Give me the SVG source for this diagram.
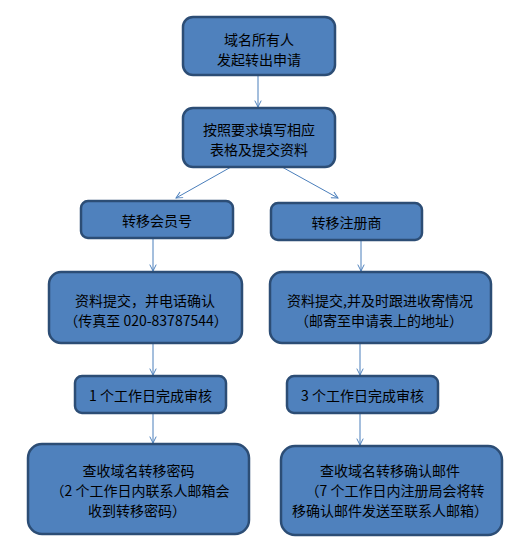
<svg xmlns="http://www.w3.org/2000/svg" width="532" height="553" viewBox="0 0 532 553">
<style>
.box{fill:#4F81BD;stroke:#2C4D75;stroke-width:2.5}
.t{font-family:"Noto Sans CJK SC","Liberation Sans",sans-serif;font-size:14px;fill:#000;text-anchor:middle;dominant-baseline:central}
.c{stroke:#4A7EBB;stroke-width:1;fill:none;marker-end:url(#ah)}
</style>
<defs>
<marker id="ah" viewBox="0 0 10 10" refX="9" refY="5" markerWidth="8" markerHeight="8" markerUnits="userSpaceOnUse" orient="auto">
<path d="M1,1 L9,5 L1,9" fill="none" stroke="#4A7EBB" stroke-width="1.2"/>
</marker>
</defs>
<rect width="532" height="553" fill="#fff"/>
<g id="connectors">
<line class="c" x1="258" y1="75" x2="258" y2="107"/>
<line class="c" x1="231" y1="167" x2="176" y2="198"/>
<line class="c" x1="282" y1="167" x2="338" y2="198"/>
<line class="c" x1="153" y1="238" x2="153" y2="271"/>
<line class="c" x1="361" y1="240" x2="361" y2="271"/>
<line class="c" x1="153" y1="343" x2="153" y2="375"/>
<line class="c" x1="360" y1="343" x2="360" y2="375"/>
<line class="c" x1="153" y1="413" x2="153" y2="443"/>
<line class="c" x1="360" y1="413" x2="360" y2="445"/>
</g>
<g id="n1">
<rect class="box" x="183" y="17" width="152" height="58" rx="10"/>
<text class="t" x="259" y="38.5">域名所有人</text>
<text class="t" x="259" y="58.5">发起转出申请</text>
</g>
<g id="n2">
<rect class="box" x="183" y="108" width="152" height="59" rx="10"/>
<text class="t" x="259" y="128.5">按照要求填写相应</text>
<text class="t" x="259" y="148.5">表格及提交资料</text>
</g>
<g id="n3">
<rect class="box" x="81" y="201" width="152" height="37" rx="7"/>
<text class="t" x="157" y="220">转移会员号</text>
</g>
<g id="n4">
<rect class="box" x="271" y="203" width="151" height="37" rx="7"/>
<text class="t" x="346.5" y="222">转移注册商</text>
</g>
<g id="n5">
<rect class="box" x="49" y="272" width="193" height="71" rx="12"/>
<text class="t" x="145" y="300">资料提交，并电话确认</text>
<text class="t" x="146" y="319.5">（传真至 020-83787544）</text>
</g>
<g id="n6">
<rect class="box" x="270" y="272" width="221" height="71" rx="12"/>
<text class="t" x="380" y="300">资料提交,并及时跟进收寄情况</text>
<text class="t" x="379" y="319.5">（邮寄至申请表上的地址）</text>
</g>
<g id="n7">
<rect class="box" x="75" y="376" width="151" height="37" rx="7"/>
<text class="t" x="150.5" y="395">1 个工作日完成审核</text>
</g>
<g id="n8">
<rect class="box" x="287" y="376" width="151" height="37" rx="7"/>
<text class="t" x="362.5" y="395">3 个工作日完成审核</text>
</g>
<g id="n9">
<rect class="box" x="28" y="444" width="221" height="90" rx="14"/>
<text class="t" x="138.5" y="470">查收域名转移密码</text>
<text class="t" x="140" y="490">（2 个工作日内联系人邮箱会</text>
<text class="t" x="137" y="510">收到转移密码）</text>
</g>
<g id="n10">
<rect class="box" x="281" y="446" width="221" height="89" rx="14"/>
<text class="t" x="390" y="470">查收域名转移确认邮件</text>
<text class="t" x="395" y="490">（7 个工作日内注册局会将转</text>
<text class="t" x="390" y="510">移确认邮件发送至联系人邮箱）</text>
</g>
</svg>
